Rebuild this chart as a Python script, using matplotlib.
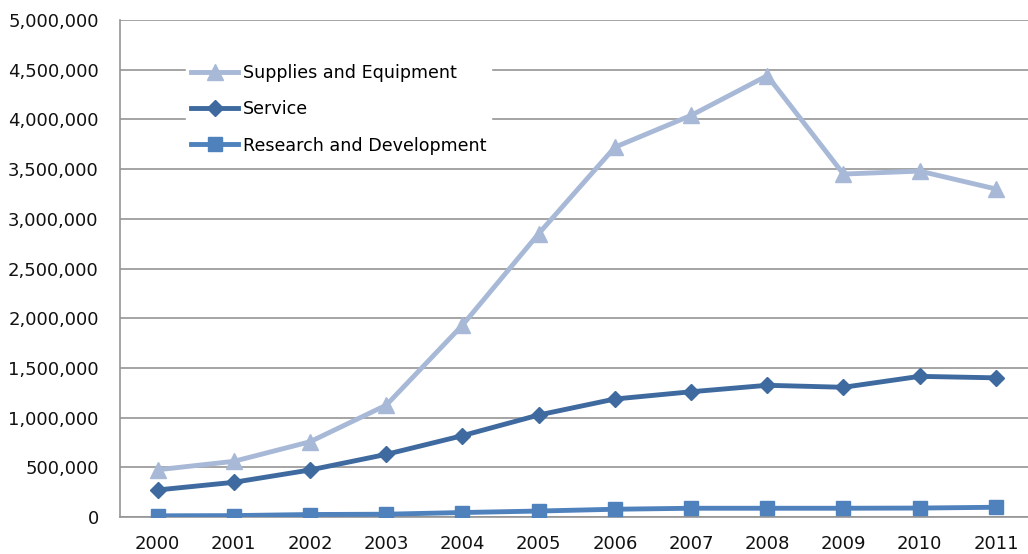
import matplotlib.pyplot as plt
from matplotlib.ticker import FuncFormatter

years = ['2000', '2001', '2002', '2003', '2004', '2005',
         '2006', '2007', '2008', '2009', '2010', '2011']
supplies = [475000, 560000, 757000, 1125000, 1930000, 2850000,
            3720000, 4040000, 4440000, 3450000, 3480000, 3300000]
service = [272000, 349000, 473000, 630000, 818000, 1026000,
           1187000, 1260000, 1325000, 1305000, 1415000, 1400000]
research = [12000, 14000, 25000, 28000, 45000, 60000,
            78000, 88000, 88000, 88000, 90000, 98000]

fig = plt.figure(figsize=(10.28, 5.54), dpi=100)
ax = fig.add_axes([119.5 / 1028, 1 - 517 / 554, 914.5 / 1028, 497 / 554])

x = list(range(len(years)))
ax.plot(x, supplies, color='#A7B9D7', lw=3.5, marker='^', ms=11,
        label='Supplies and Equipment', zorder=3)
ax.plot(x, service, color='#3E6A9F', lw=3.5, marker='D', ms=8.5,
        label='Service', zorder=4)
ax.plot(x, research, color='#4F81BD', lw=3.5, marker='s', ms=10.5,
        label='Research and Development', zorder=5)

ax.set_xlim(-0.5, 11.5)
ax.set_ylim(0, 5000000)
ax.set_xticks(x)
ax.set_xticklabels(years)
ax.set_yticks(range(0, 5000001, 500000))
ax.yaxis.set_major_formatter(FuncFormatter(lambda v, p: f'{int(v):,}'))
ax.tick_params(axis='both', length=0, labelsize=13, labelcolor='#111111')
ax.tick_params(axis='y', pad=15)
ax.tick_params(axis='x', pad=13)

ax.grid(axis='y', color='#959595', lw=1.2)
ax.set_axisbelow(True)
for s in ['top', 'right']:
    ax.spines[s].set_visible(False)
ax.spines['left'].set_color('#959595')
ax.spines['left'].set_linewidth(1.2)
ax.spines['bottom'].set_color('#959595')
ax.spines['bottom'].set_linewidth(1.2)

leg = ax.legend(loc='upper left', bbox_to_anchor=(0.063, 0.94), frameon=True,
                fontsize=12.6, labelspacing=1.05, handlelength=2.7,
                handletextpad=0.25, borderpad=0.3)
leg.get_frame().set_facecolor('white')
leg.get_frame().set_edgecolor('white')
leg.get_frame().set_alpha(1)

fig.savefig('out.png', dpi=100)
